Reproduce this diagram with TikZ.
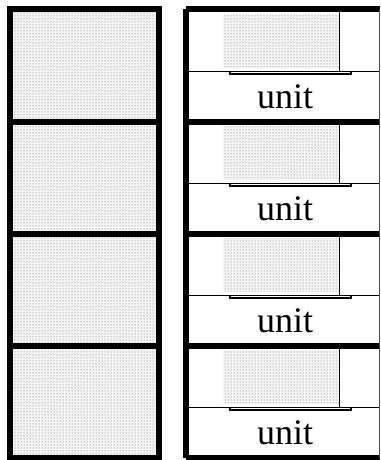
\documentclass[tikz,border=0pt]{standalone}
\usepackage{fontspec}
\setmainfont{Liberation Serif}
\usetikzlibrary{patterns, positioning}
\definecolor{dotGrey}{HTML}{6A6A6A}
\tikzset{
  frameline/.style = {line width=6pt, black},
  thinline/.style  = {line width=0.9pt, black},
  brace/.style     = {line width=1.4pt, black},
  stipple/.style   = {pattern=dots, pattern color=dotGrey},
  unitlbl/.style   = {font=\fontsize{36}{40}\selectfont, anchor=base, inner sep=0pt},
}

\begin{document}
\begin{tikzpicture}[x=1pt, y=-1pt]
  \useasboundingbox (0,0) rectangle (380,460);

  % left column: four stippled cells
  \fill[black!4] (10,9.5) rectangle (159,457.5);
  \fill[stipple] (10,9.5) rectangle (159,457.5);
  \draw[frameline] (10,9.5) rectangle (159,457.5);
  \foreach \y in {121.5,233.5,345.5}
    \draw[frameline] (10,\y) -- (159,\y);

  % right column: four cells with a unit label
  \foreach \i/\y in {1/9.5,2/121.5,3/233.5,4/345.5} {
    \fill[black!4] (223,\y+4.5) rectangle (339,\y+58);
    \fill[stipple] (223,\y+4.5) rectangle (339,\y+58);
    \draw[thinline] (339,\y+3) -- (339,\y+62);
    \draw[thinline] (185.5,\y+62) -- (379,\y+62);
    \draw[brace] (230,\y+61.5) -- (230,\y+64.5) -- (351,\y+64.5) -- (351,\y+61.5);
    \node[unitlbl] (unit\i) at (285,\y+98.5) {unit};
    \draw[frameline] (185.5,\y) -- (380,\y);
  }
  \draw[frameline] (185.5,457.5) -- (380,457.5);
  \draw[frameline] (185.5,9.5) -- (185.5,457.5);
  \draw[thinline, black!70] (379,9.5) -- (379,457.5);
\end{tikzpicture}
\end{document}
